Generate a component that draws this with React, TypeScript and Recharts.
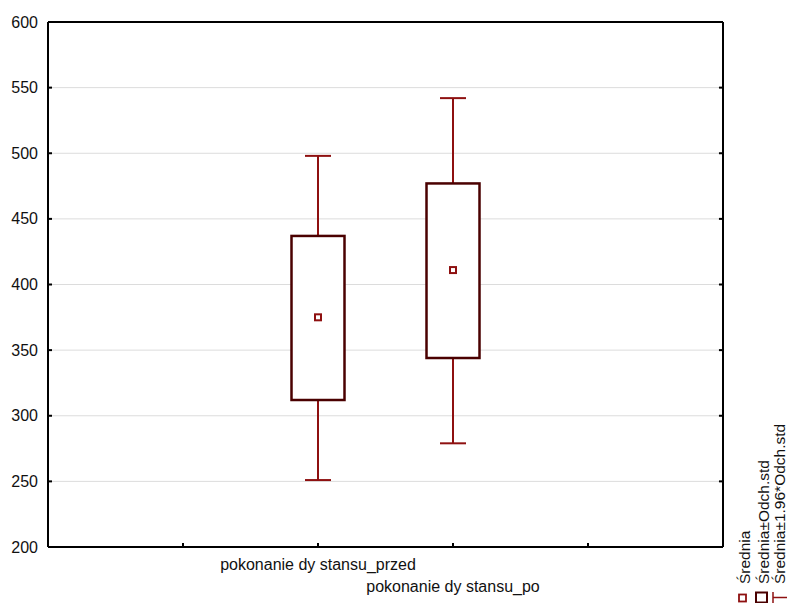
import { ComposedChart, Bar, XAxis, YAxis, CartesianGrid, ReferenceLine } from 'recharts';

// categories and their positions on the numeric x axis
const categories = ['pokonanie dy stansu_przed', 'pokonanie dy stansu_po'];
const xPositions = [2, 3];
const xTicks = [1, 2, 3, 4];

// Średnia, Średnia±Odch.std, Średnia±1.96*Odch.std
const means = [375, 411];
const sdLow = [312, 344];
const sdHigh = [437, 477];
const ciLow = [251, 279];
const ciHigh = [498, 542];

const yTicks = [200, 250, 300, 350, 400, 450, 500, 550, 600];
const legendLabels = ['Średnia', 'Średnia±Odch.std', 'Średnia±1.96*Odch.std'];

const FONT = '"Liberation Sans", Arial, sans-serif';
const BOX = '#4a0000';
const WHISKER = '#8e1010';

const data = categories.map((name, i) => ({
  name,
  x: xPositions[i],
  mean: means[i],
  sdLow: sdLow[i],
  sdHigh: sdHigh[i],
  ci: [ciLow[i], ciHigh[i]],
}));

// draws whiskers, box and mean marker from the bar's geometry (bar spans the 1.96 sd range)
function BoxShape(props: any) {
  const { x, y, width, height, payload } = props;
  const top = Math.min(y, y + height);
  const h = Math.abs(height);
  const [lo, hi] = payload.ci;
  const k = h / (hi - lo);
  const toY = (v: number) => top + (hi - v) * k;
  const cx = x + width / 2;
  const half = width / 2;
  const cap = 13;
  return (
    <g>
      <line x1={cx} x2={cx} y1={toY(hi)} y2={toY(lo)} stroke={WHISKER} strokeWidth={2} />
      <line x1={cx - cap} x2={cx + cap} y1={toY(hi)} y2={toY(hi)} stroke={WHISKER} strokeWidth={2} />
      <line x1={cx - cap} x2={cx + cap} y1={toY(lo)} y2={toY(lo)} stroke={WHISKER} strokeWidth={2} />
      <rect
        x={cx - half}
        y={toY(payload.sdHigh)}
        width={width}
        height={toY(payload.sdLow) - toY(payload.sdHigh)}
        fill="#fff"
        stroke={BOX}
        strokeWidth={2.5}
      />
      <rect
        x={cx - 3}
        y={toY(payload.mean) - 3}
        width={6}
        height={6}
        fill="#fff"
        stroke={WHISKER}
        strokeWidth={2}
      />
    </g>
  );
}

function XTick(props: any) {
  const { x, y, payload } = props;
  const idx = xPositions.indexOf(payload.value);
  return (
    <g>
      <line x1={x} x2={x} y1={y} y2={y - 4} stroke="#000" strokeWidth={2} />
      {idx >= 0 && (
        <text x={x} y={y + 23 + idx * 22} textAnchor="middle" fontSize={16} fontFamily={FONT} fill="#111">
          {categories[idx]}
        </text>
      )}
    </g>
  );
}

function YTick(props: any) {
  const { x, y, payload } = props;
  return (
    <g>
      <line x1={x} x2={x + 4} y1={y} y2={y} stroke="#000" strokeWidth={2} />
      <text x={x - 10} y={y} dy={5.5} textAnchor="end" fontSize={16} fontFamily={FONT} fill="#111">
        {payload.value}
      </text>
    </g>
  );
}

function LegendIcons() {
  const cols = [750, 768.5, 784.5];
  return (
    <svg width={787} height={603} style={{ position: 'absolute', left: 0, top: 0, pointerEvents: 'none' }}>
      {legendLabels.map((label, i) => (
        <text
          key={label}
          transform={`translate(${cols[i]}, 584) rotate(-90)`}
          fontSize={15.5}
          fontFamily={FONT}
          fill="#111"
        >
          {label}
        </text>
      ))}
      <rect x={739} y={594.5} width={7} height={7} fill="#fff" stroke={WHISKER} strokeWidth={1.8} />
      <rect x={756} y={592.5} width={11} height={10} fill="#fff" stroke={BOX} strokeWidth={2} />
      <line x1={773} x2={773} y1={592} y2={603} stroke={WHISKER} strokeWidth={1.5} />
      <line x1={773} x2={787} y1={597.5} y2={597.5} stroke={WHISKER} strokeWidth={1.5} />
    </svg>
  );
}

export default function App() {
  return (
    <div style={{ position: 'relative', width: 787, height: 603, background: '#fff' }}>
      <style>{'body{margin:0}'}</style>
      <ComposedChart width={787} height={603} data={data} margin={{ top: 22, right: 64, bottom: 0, left: 0 }}>
        <CartesianGrid vertical={false} stroke="#dcdcdc" />
        <XAxis
          dataKey="x"
          type="number"
          domain={[0, 5]}
          ticks={xTicks}
          height={56}
          tickSize={0}
          tickMargin={0}
          tickLine={false}
          axisLine={{ stroke: '#000', strokeWidth: 2 }}
          tick={<XTick />}
          interval={0}
        />
        <YAxis
          type="number"
          domain={[200, 600]}
          ticks={yTicks}
          width={48}
          tickSize={0}
          tickMargin={0}
          tickLine={false}
          axisLine={{ stroke: '#000', strokeWidth: 2 }}
          tick={<YTick />}
          interval={0}
        />
        <Bar dataKey="ci" barSize={53} shape={<BoxShape />} isAnimationActive={false} />
        {/* frame: top and right edges with inward ticks on the right */}
        <ReferenceLine y={600} stroke="#000" strokeWidth={2} ifOverflow="visible" />
        <ReferenceLine x={5} stroke="#000" strokeWidth={2} ifOverflow="visible" />
        {yTicks.slice(1, -1).map((v) => (
          <ReferenceLine
            key={v}
            segment={[{ x: 5, y: v }, { x: 4.97, y: v }]}
            stroke="#000"
            strokeWidth={2}
            ifOverflow="visible"
          />
        ))}
      </ComposedChart>
      <LegendIcons />
    </div>
  );
}
